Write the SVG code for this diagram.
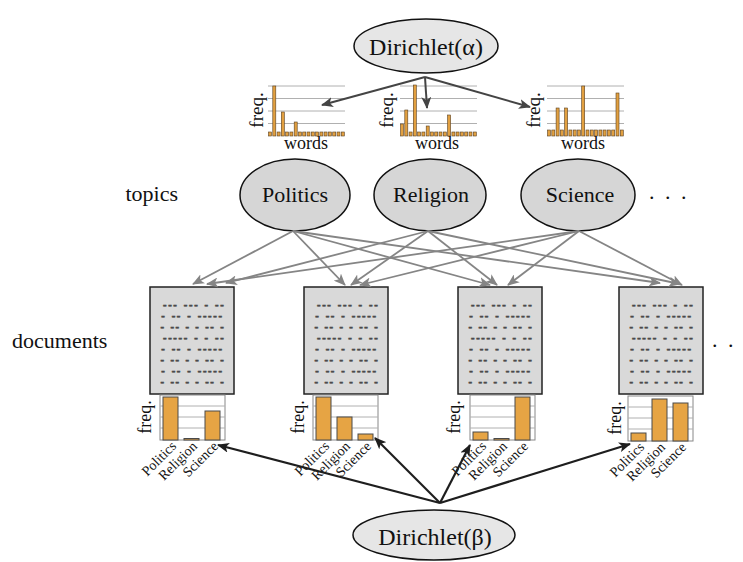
<svg xmlns="http://www.w3.org/2000/svg" width="743" height="562" viewBox="0 0 743 562">
<style>
.lbl{font-family:"Liberation Serif","Times New Roman",serif;fill:#111}
.ell{stroke:#111;stroke-width:1.5}
.dir{fill:#e6e6e6}
.top{fill:#d6d6d6}
.doc{fill:#d9d9d9;stroke:#222;stroke-width:1.5}
.dash{font-family:"Liberation Mono","Courier New",monospace;font-weight:bold;font-size:10px;fill:#4a4a4a;stroke:#4a4a4a;stroke-width:0.5}
.grid{stroke:#b0b0b0;stroke-width:1}
.wb{fill:#e2a040;stroke:#5a4020;stroke-width:0.6}
.bb{fill:#e6a444;stroke:#4a4a4a;stroke-width:1}
.frame{fill:#fff;stroke:#888;stroke-width:1}
.ax{font-size:18px}
.cat{font-size:14px}
.a1{fill:none;stroke:#444;stroke-width:2;marker-end:url(#h1)}
.a2{fill:none;stroke:#858585;stroke-width:1.8;marker-end:url(#h2)}
.a3{fill:none;stroke:#1e1e1e;stroke-width:2.2;marker-end:url(#h3)}
</style>
<defs>
<marker id="h1" markerUnits="userSpaceOnUse" markerWidth="12" markerHeight="10" refX="11" refY="5" orient="auto"><path d="M0,0 L12,5 L0,10 L3,5 z" fill="#444"/></marker>
<marker id="h2" markerUnits="userSpaceOnUse" markerWidth="12" markerHeight="10" refX="11" refY="5" orient="auto"><path d="M0,0 L12,5 L0,10 L3,5 z" fill="#858585"/></marker>
<marker id="h3" markerUnits="userSpaceOnUse" markerWidth="12" markerHeight="10" refX="11" refY="5" orient="auto"><path d="M0,0 L12,5 L0,10 L3,5 z" fill="#1e1e1e"/></marker>
</defs>
<rect width="743" height="562" fill="#fff"/>

<g id="dirichlet-alpha">
<ellipse class="ell dir" cx="426" cy="46" rx="72" ry="27"/>
<text class="lbl" x="426" y="55" font-size="24" text-anchor="middle">Dirichlet(α)</text>
</g>

<g id="word-hist-politics">
<g class="grid"><line x1="268" y1="86" x2="345" y2="86"/><line x1="268" y1="98.5" x2="345" y2="98.5"/><line x1="268" y1="111" x2="345" y2="111"/><line x1="268" y1="123.5" x2="345" y2="123.5"/></g>
<g class="wb">
<rect x="268.5" y="132" width="3" height="4"/><rect x="272.8" y="86" width="3" height="50"/><rect x="277.1" y="132" width="3" height="4"/><rect x="281.3" y="112" width="3" height="24"/><rect x="285.6" y="132" width="3" height="4"/><rect x="289.9" y="132" width="3" height="4"/><rect x="294.2" y="122" width="3" height="14"/><rect x="298.5" y="132" width="3" height="4"/><rect x="302.7" y="132" width="3" height="4"/><rect x="307" y="132" width="3" height="4"/><rect x="311.3" y="132" width="3" height="4"/><rect x="315.6" y="132" width="3" height="4"/><rect x="319.9" y="132" width="3" height="4"/><rect x="324.1" y="132" width="3" height="4"/><rect x="328.4" y="132" width="3" height="4"/><rect x="332.7" y="132" width="3" height="4"/><rect x="337" y="132" width="3" height="4"/><rect x="341.3" y="132" width="3" height="4"/>
</g>
<text class="lbl" transform="translate(263,110) rotate(-90)" font-size="19" text-anchor="middle">freq.</text>
<text class="lbl" x="306" y="149" font-size="18" text-anchor="middle">words</text>
</g>

<g id="word-hist-religion">
<g class="grid"><line x1="400" y1="86" x2="477" y2="86"/><line x1="400" y1="98.5" x2="477" y2="98.5"/><line x1="400" y1="111" x2="477" y2="111"/><line x1="400" y1="123.5" x2="477" y2="123.5"/></g>
<g class="wb">
<rect x="400.5" y="124" width="3" height="12"/><rect x="404.8" y="110" width="3" height="26"/><rect x="409.1" y="132" width="3" height="4"/><rect x="413.3" y="85" width="3" height="51"/><rect x="417.6" y="132" width="3" height="4"/><rect x="421.9" y="132" width="3" height="4"/><rect x="426.2" y="126" width="3" height="10"/><rect x="430.5" y="132" width="3" height="4"/><rect x="434.7" y="132" width="3" height="4"/><rect x="439" y="132" width="3" height="4"/><rect x="443.3" y="132" width="3" height="4"/><rect x="447.6" y="115" width="3" height="21"/><rect x="451.9" y="132" width="3" height="4"/><rect x="456.1" y="132" width="3" height="4"/><rect x="460.4" y="132" width="3" height="4"/><rect x="464.7" y="132" width="3" height="4"/><rect x="469" y="132" width="3" height="4"/><rect x="473.3" y="132" width="3" height="4"/>
</g>
<text class="lbl" transform="translate(393,110) rotate(-90)" font-size="19" text-anchor="middle">freq.</text>
<text class="lbl" x="437" y="149" font-size="18" text-anchor="middle">words</text>
</g>

<g id="word-hist-science">
<g class="grid"><line x1="547" y1="86" x2="624" y2="86"/><line x1="547" y1="98.5" x2="624" y2="98.5"/><line x1="547" y1="111" x2="624" y2="111"/><line x1="547" y1="123.5" x2="624" y2="123.5"/></g>
<g class="wb">
<rect x="547.5" y="130" width="3" height="6"/><rect x="551.8" y="130" width="3" height="6"/><rect x="556.1" y="108" width="3" height="28"/><rect x="560.3" y="130" width="3" height="6"/><rect x="564.6" y="108" width="3" height="28"/><rect x="568.9" y="130" width="3" height="6"/><rect x="573.2" y="130" width="3" height="6"/><rect x="577.5" y="130" width="3" height="6"/><rect x="581.7" y="86" width="3" height="50"/><rect x="586" y="130" width="3" height="6"/><rect x="590.3" y="130" width="3" height="6"/><rect x="594.6" y="130" width="3" height="6"/><rect x="598.9" y="130" width="3" height="6"/><rect x="603.1" y="130" width="3" height="6"/><rect x="607.4" y="130" width="3" height="6"/><rect x="611.7" y="130" width="3" height="6"/><rect x="616" y="93" width="3" height="43"/><rect x="620.3" y="130" width="3" height="6"/>
</g>
<text class="lbl" transform="translate(540,110) rotate(-90)" font-size="19" text-anchor="middle">freq.</text>
<text class="lbl" x="583" y="149" font-size="18" text-anchor="middle">words</text>
</g>

<text class="lbl" x="178" y="201" font-size="22" text-anchor="end">topics</text>
<text class="lbl" x="12" y="348" font-size="22">documents</text>

<g id="topic-politics">
<ellipse class="ell top" cx="295" cy="195" rx="55" ry="36"/>
<text class="lbl" x="295" y="202" font-size="22" text-anchor="middle">Politics</text>
</g>
<g id="topic-religion">
<ellipse class="ell top" cx="430" cy="195" rx="56" ry="36"/>
<text class="lbl" x="431" y="202" font-size="22" text-anchor="middle">Religion</text>
</g>
<g id="topic-science">
<ellipse class="ell top" cx="578" cy="195" rx="57" ry="36"/>
<text class="lbl" x="580" y="202" font-size="22" text-anchor="middle">Science</text>
</g>
<text class="lbl" x="649" y="199" font-size="22" letter-spacing="10.5">...</text>

<g id="doc1">
<rect class="doc" x="150" y="287" width="84" height="107"/>
<g class="dash">
<text x="161.7" y="308" textLength="63.3" lengthAdjust="spacing">--- --- - --</text>
<text x="160" y="319" textLength="63.3" lengthAdjust="spacing">- -- - -----</text>
<text x="159.3" y="330" textLength="65.7" lengthAdjust="spacing">- -- - - -- -</text>
<text x="161.7" y="341" textLength="63.3" lengthAdjust="spacing">----- - - --</text>
<text x="160" y="352" textLength="63.3" lengthAdjust="spacing">- -- - -----</text>
<text x="159.3" y="363" textLength="65.7" lengthAdjust="spacing">- -- - - -- -</text>
<text x="160" y="374" textLength="63.3" lengthAdjust="spacing">- -- - -----</text>
<text x="159.3" y="385" textLength="65.7" lengthAdjust="spacing">- -- - - -- -</text>
</g>
<rect class="frame" x="160" y="395" width="65" height="45"/>
<g class="grid"><line x1="160" y1="406" x2="225" y2="406"/><line x1="160" y1="417" x2="225" y2="417"/><line x1="160" y1="428" x2="225" y2="428"/></g>
<rect class="bb" x="163" y="397" width="15" height="43"/><rect class="bb" x="184" y="438.5" width="15" height="1.5"/><rect class="bb" x="205" y="411" width="15" height="29"/>
<text class="lbl ax" transform="translate(151,417) rotate(-90)" text-anchor="middle">freq.</text>
<text class="lbl cat" transform="translate(177,447) rotate(-45)" text-anchor="end">Politics</text>
<text class="lbl cat" transform="translate(198,447) rotate(-45)" text-anchor="end">Religion</text>
<text class="lbl cat" transform="translate(219,447) rotate(-45)" text-anchor="end">Science</text>
</g>

<g id="doc2">
<rect class="doc" x="304" y="287" width="84" height="107"/>
<g class="dash">
<text x="315.7" y="308" textLength="63.3" lengthAdjust="spacing">--- --- - --</text>
<text x="314" y="319" textLength="63.3" lengthAdjust="spacing">- -- - -----</text>
<text x="313.3" y="330" textLength="65.7" lengthAdjust="spacing">- -- - - -- -</text>
<text x="315.7" y="341" textLength="63.3" lengthAdjust="spacing">----- - - --</text>
<text x="314" y="352" textLength="63.3" lengthAdjust="spacing">- -- - -----</text>
<text x="313.3" y="363" textLength="65.7" lengthAdjust="spacing">- -- - - -- -</text>
<text x="314" y="374" textLength="63.3" lengthAdjust="spacing">- -- - -----</text>
<text x="313.3" y="385" textLength="65.7" lengthAdjust="spacing">- -- - - -- -</text>
</g>
<rect class="frame" x="313" y="395" width="65" height="45"/>
<g class="grid"><line x1="313" y1="406" x2="378" y2="406"/><line x1="313" y1="417" x2="378" y2="417"/><line x1="313" y1="428" x2="378" y2="428"/></g>
<rect class="bb" x="316" y="397" width="15" height="43"/><rect class="bb" x="337" y="417" width="15" height="23"/><rect class="bb" x="358" y="434" width="15" height="6"/>
<text class="lbl ax" transform="translate(304,417) rotate(-90)" text-anchor="middle">freq.</text>
<text class="lbl cat" transform="translate(330,447) rotate(-45)" text-anchor="end">Politics</text>
<text class="lbl cat" transform="translate(351,447) rotate(-45)" text-anchor="end">Religion</text>
<text class="lbl cat" transform="translate(372,447) rotate(-45)" text-anchor="end">Science</text>
</g>

<g id="doc3">
<rect class="doc" x="458" y="287" width="84" height="107"/>
<g class="dash">
<text x="469.7" y="308" textLength="63.3" lengthAdjust="spacing">--- --- - --</text>
<text x="468" y="319" textLength="63.3" lengthAdjust="spacing">- -- - -----</text>
<text x="467.3" y="330" textLength="65.7" lengthAdjust="spacing">- -- - - -- -</text>
<text x="469.7" y="341" textLength="63.3" lengthAdjust="spacing">----- - - --</text>
<text x="468" y="352" textLength="63.3" lengthAdjust="spacing">- -- - -----</text>
<text x="467.3" y="363" textLength="65.7" lengthAdjust="spacing">- -- - - -- -</text>
<text x="468" y="374" textLength="63.3" lengthAdjust="spacing">- -- - -----</text>
<text x="467.3" y="385" textLength="65.7" lengthAdjust="spacing">- -- - - -- -</text>
</g>
<rect class="frame" x="470" y="395" width="65" height="45"/>
<g class="grid"><line x1="470" y1="406" x2="535" y2="406"/><line x1="470" y1="417" x2="535" y2="417"/><line x1="470" y1="428" x2="535" y2="428"/></g>
<rect class="bb" x="473" y="432" width="15" height="8"/><rect class="bb" x="494" y="438.5" width="15" height="1.5"/><rect class="bb" x="515" y="397" width="15" height="43"/>
<text class="lbl ax" transform="translate(460,417) rotate(-90)" text-anchor="middle">freq.</text>
<text class="lbl cat" transform="translate(487,447) rotate(-45)" text-anchor="end">Politics</text>
<text class="lbl cat" transform="translate(508,447) rotate(-45)" text-anchor="end">Religion</text>
<text class="lbl cat" transform="translate(529,447) rotate(-45)" text-anchor="end">Science</text>
</g>

<g id="doc4">
<rect class="doc" x="619" y="287" width="84" height="107"/>
<g class="dash">
<text x="630.7" y="308" textLength="63.3" lengthAdjust="spacing">--- --- - --</text>
<text x="629" y="319" textLength="63.3" lengthAdjust="spacing">- -- - -----</text>
<text x="628.3" y="330" textLength="65.7" lengthAdjust="spacing">- -- - - -- -</text>
<text x="630.7" y="341" textLength="63.3" lengthAdjust="spacing">----- - - --</text>
<text x="629" y="352" textLength="63.3" lengthAdjust="spacing">- -- - -----</text>
<text x="628.3" y="363" textLength="65.7" lengthAdjust="spacing">- -- - - -- -</text>
<text x="629" y="374" textLength="63.3" lengthAdjust="spacing">- -- - -----</text>
<text x="628.3" y="385" textLength="65.7" lengthAdjust="spacing">- -- - - -- -</text>
</g>
<rect class="frame" x="628" y="396" width="65" height="45"/>
<g class="grid"><line x1="628" y1="407" x2="693" y2="407"/><line x1="628" y1="418" x2="693" y2="418"/><line x1="628" y1="429" x2="693" y2="429"/></g>
<rect class="bb" x="631" y="433" width="15" height="8"/><rect class="bb" x="652" y="399" width="15" height="42"/><rect class="bb" x="673" y="403" width="15" height="38"/>
<text class="lbl ax" transform="translate(621,418) rotate(-90)" text-anchor="middle">freq.</text>
<text class="lbl cat" transform="translate(645,448) rotate(-45)" text-anchor="end">Politics</text>
<text class="lbl cat" transform="translate(666,448) rotate(-45)" text-anchor="end">Religion</text>
<text class="lbl cat" transform="translate(687,448) rotate(-45)" text-anchor="end">Science</text>
</g>
<text class="lbl" x="712" y="347" font-size="22" letter-spacing="10.5">..</text>

<g id="dirichlet-beta">
<ellipse class="ell dir" cx="434" cy="535" rx="81" ry="25"/>
<text class="lbl" x="435" y="545" font-size="24" text-anchor="middle">Dirichlet(β)</text>
</g>

<g id="connectors">
<line class="a1" x1="425" y1="77" x2="322" y2="105"/>
<line class="a1" x1="425" y1="77" x2="427" y2="108"/>
<line class="a1" x1="425" y1="77" x2="530" y2="107"/>

<line class="a2" x1="293" y1="231" x2="193" y2="284"/>
<line class="a2" x1="293" y1="231" x2="345" y2="285"/>
<line class="a2" x1="293" y1="231" x2="490" y2="285"/>
<line class="a2" x1="293" y1="231" x2="660" y2="283"/>
<line class="a2" x1="428" y1="231" x2="226" y2="283"/>
<line class="a2" x1="428" y1="231" x2="351" y2="285"/>
<line class="a2" x1="428" y1="231" x2="497" y2="285"/>
<line class="a2" x1="428" y1="231" x2="680" y2="284"/>
<line class="a2" x1="579" y1="231" x2="207" y2="284"/>
<line class="a2" x1="579" y1="231" x2="360" y2="285"/>
<line class="a2" x1="579" y1="231" x2="508" y2="285"/>
<line class="a2" x1="579" y1="231" x2="682" y2="285"/>

<line class="a3" x1="440" y1="503" x2="218" y2="445"/>
<line class="a3" x1="440" y1="503" x2="375" y2="438"/>
<line class="a3" x1="440" y1="503" x2="470" y2="445"/>
<line class="a3" x1="440" y1="503" x2="630" y2="444"/>
</g>
</svg>
